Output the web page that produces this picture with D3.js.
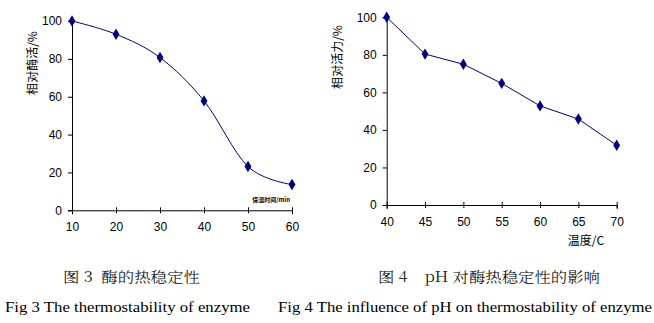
<!DOCTYPE html>
<html><head><meta charset="utf-8">
<script src="https://cdn.jsdelivr.net/npm/d3@7"></script>
<style>body{margin:0;background:#fff}svg{display:block}text{white-space:pre}</style>
</head><body>
<script>
// Data
const timeCats = [10, 20, 30, 40, 50, 60];
const thermoValues = [100, 93, 80.7, 57.8, 23.1, 13.6];
const tempCats = [40, 45, 50, 55, 60, 65, 70];
const phValues = [100, 80.4, 75, 64.8, 52.8, 45.8, 31.8];
const yTicks = [0, 20, 40, 60, 80, 100];
const labels = {
  y1: "相对酶活/%", x1: "保温时间/min",
  y2: "相对活力/%", x2: "温度/C",
  cap1cn: "图 3  酶的热稳定性", cap1en: "Fig 3 The thermostability of enzyme",
  cap2cn: "图 4    pH 对酶热稳定性的影响", cap2en: "Fig 4 The influence of pH on thermostability of enzyme"
};

const W = 654, H = 323;
const svg = d3.select("body").append("svg").attr("width", W).attr("height", H);
const navy = "#000080";
const tickFont = "Liberation Sans, Arial, sans-serif";
const cjk = "'Noto Sans CJK SC', sans-serif";
const serif = "'Liberation Serif', 'Times New Roman', serif";

function drawPanel(opt) {
  const x = d3.scaleLinear().domain(opt.xDomain).range(opt.xRange);
  const y = d3.scaleLinear().domain([0, 100]).range(opt.yRange);
  const g = svg.append("g");
  const yAxis = d3.axisLeft(y).tickValues(yTicks).tickSize(4).tickPadding(6);
  const ga = g.append("g").attr("transform", `translate(${opt.xRange[0]},0)`).call(yAxis);
  const xAxis = d3.axisBottom(x).tickValues(opt.cats).tickSize(4).tickPadding(8);
  const gx = g.append("g").attr("transform", `translate(0,${opt.yRange[0]})`).call(xAxis);
  [ga, gx].forEach(a => {
    a.select(".domain").attr("stroke", "#000").attr("stroke-width", 1);
    a.selectAll(".tick line").attr("stroke", "#000");
    a.selectAll("text").attr("font-family", tickFont).attr("font-size", 12).attr("fill", "#000");
  });
  gx.selectAll(".tick line").attr("y1", -3).attr("y2", 3);
  ga.selectAll(".tick line").attr("x1", 0).attr("x2", -4);
  const line = d3.line().x((d, i) => x(opt.cats[i])).y(d => y(d)).curve(opt.curve);
  g.append("path").datum(opt.values).attr("d", line).attr("fill", "none").attr("stroke", navy).attr("stroke-width", 1);
  g.selectAll(".pt").data(opt.values).join("path")
    .attr("d", d3.symbol(d3.symbolDiamond, 34)())
    .attr("transform", (d, i) => `translate(${x(opt.cats[i])},${y(d)}) scale(1.1,1.05)`)
    .attr("fill", navy);
  g.append("text").attr("transform", `translate(${opt.ylabX},${opt.ylabY}) rotate(-90)`)
    .attr("text-anchor", "middle").attr("dominant-baseline", "central")
    .attr("font-family", cjk).attr("font-size", 12).text(opt.ylab);
}

drawPanel({
  xDomain: [10, 60], xRange: [72, 292], yRange: [210.3, 21], cats: timeCats, values: thermoValues,
  curve: d3.curveCatmullRom.alpha(0), ylab: labels.y1, ylabX: 31, ylabY: 63
});
svg.append("text").attr("x", 290).attr("y", 202).attr("text-anchor", "end")
  .attr("font-family", cjk).attr("font-size", 6).attr("font-weight", "bold").text(labels.x1);

drawPanel({
  xDomain: [40, 70], xRange: [386.7, 616.7], yRange: [205, 17.3], cats: tempCats, values: phValues,
  curve: d3.curveLinear, ylab: labels.y2, ylabX: 336, ylabY: 57
});
svg.append("text").attr("x", 586).attr("y", 239).attr("text-anchor", "middle").attr("dominant-baseline", "central")
  .attr("font-family", cjk).attr("font-size", 12).text(labels.x2);

// Captions
function cap(txt, x, y, len, font, weight) {
  svg.append("text").attr("x", x).attr("y", y).attr("font-family", font).attr("font-size", 14)
    .attr("font-weight", weight || "normal").attr("xml:space", "preserve")
    .attr("textLength", len).attr("lengthAdjust", "spacingAndGlyphs").text(txt);
}
cap(labels.cap1cn, 63, 282, 137, "'Noto Serif CJK SC', " + cjk, 300);
cap(labels.cap1en, 5, 312, 245, serif);
cap(labels.cap2cn, 378, 282, 222, "'Noto Serif CJK SC', " + cjk, 300);
cap(labels.cap2en, 278, 312, 374, serif);
</script>
</body></html>
